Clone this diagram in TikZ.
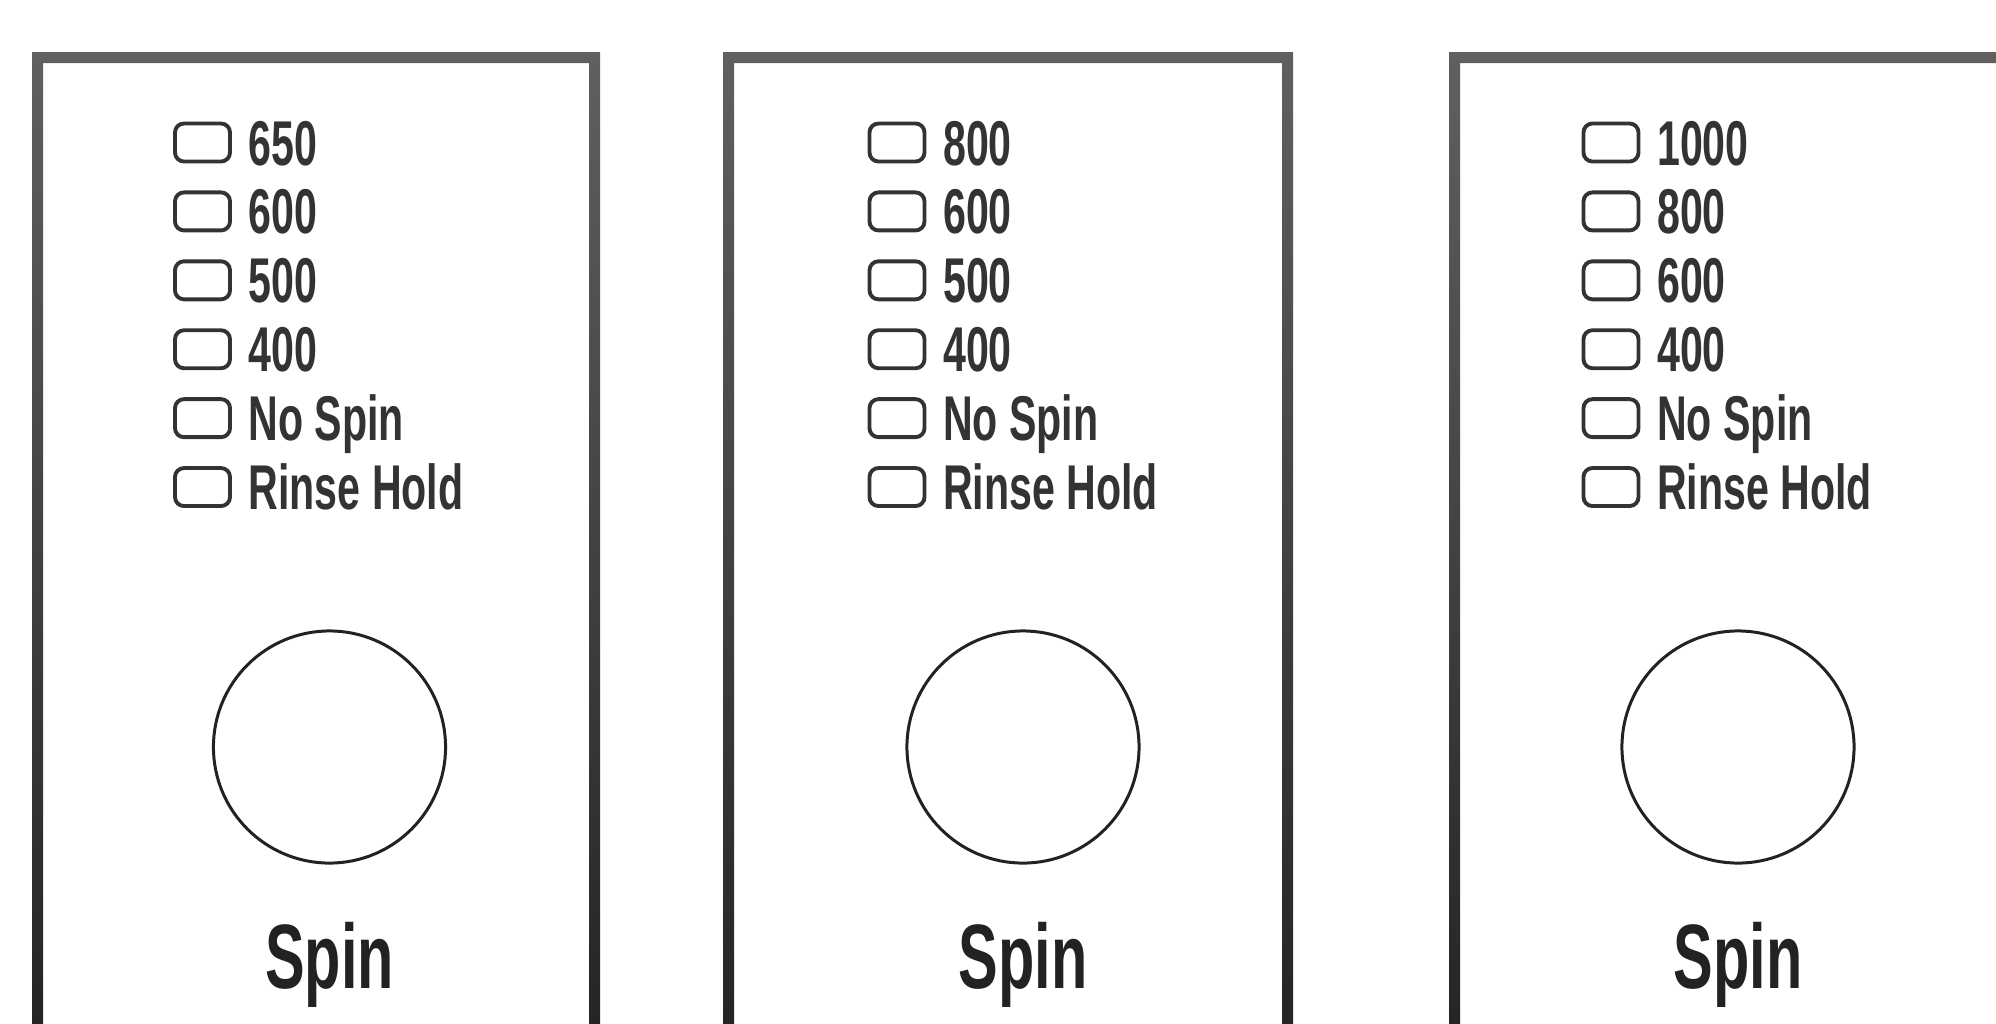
\documentclass[tikz,border=0pt]{standalone}
\usepackage{fontspec}
\usepackage{xcolor}
\usepackage{tikz}
\usetikzlibrary{positioning}
\newfontfamily\panelfont[FakeStretch=0.65]{Liberation Sans}
\definecolor{frametop}{HTML}{606060}
\definecolor{framebot}{HTML}{202020}
\definecolor{inktext}{HTML}{333333}
\definecolor{inkline}{HTML}{222222}
\tikzset{
  panelframe/.style={top color=frametop, bottom color=framebot, even odd rule},
  knob/.style={draw=inktext, line width=1.1pt, rounded corners=0.09cm, minimum width=0.55cm, minimum height=0.38cm, inner sep=0pt},
  speed/.style={inner sep=0pt, text height=0.45cm, text depth=0pt, text=inktext, font=\panelfont\bfseries\fontsize{18}{20}\selectfont},
  dial/.style={draw=inkline, line width=0.85pt, circle, minimum size=2.32cm, inner sep=0pt},
  spinlabel/.style={inner sep=0pt, text height=0.65cm, text depth=0pt, text=inkline, font=\panelfont\bfseries\fontsize{26}{28}\selectfont}
}

\begin{document}
\begin{tikzpicture}[x=0.01cm, y=-0.01cm]
  \useasboundingbox (0,0) rectangle (1996,1023);
  \clip (0,0) rectangle (1996,1023);

  % left panel
  \shade[panelframe] (32,52) rectangle (600,1100) (43,63) rectangle (589,1100);
  \node[knob] (k1a) at (202.5,142.5) {}; \node[speed, right=0.16cm of k1a] (s1a) {650};
  \node[knob, below=0.27cm of k1a] (k1b) {}; \node[speed, right=0.16cm of k1b] (s1b) {600};
  \node[knob, below=0.27cm of k1b] (k1c) {}; \node[speed, right=0.16cm of k1c] (s1c) {500};
  \node[knob, below=0.27cm of k1c] (k1d) {}; \node[speed, right=0.16cm of k1d] (s1d) {400};
  \node[knob, below=0.27cm of k1d] (k1e) {}; \node[speed, right=0.16cm of k1e] (s1e) {No Spin};
  \node[knob, below=0.27cm of k1e] (k1f) {}; \node[speed, right=0.16cm of k1f] (s1f) {Rinse Hold};
  \node[dial] (d1) at (329.5,747) {};
  \node[spinlabel, below=0.58cm of d1] (t1) {Spin};

  % middle panel
  \shade[panelframe] (723,52) rectangle (1293,1100) (734,63) rectangle (1282,1100);
  \node[knob] (k2a) at (897,142.5) {}; \node[speed, right=0.16cm of k2a] (s2a) {800};
  \node[knob, below=0.27cm of k2a] (k2b) {}; \node[speed, right=0.16cm of k2b] (s2b) {600};
  \node[knob, below=0.27cm of k2b] (k2c) {}; \node[speed, right=0.16cm of k2c] (s2c) {500};
  \node[knob, below=0.27cm of k2c] (k2d) {}; \node[speed, right=0.16cm of k2d] (s2d) {400};
  \node[knob, below=0.27cm of k2d] (k2e) {}; \node[speed, right=0.16cm of k2e] (s2e) {No Spin};
  \node[knob, below=0.27cm of k2e] (k2f) {}; \node[speed, right=0.16cm of k2f] (s2f) {Rinse Hold};
  \node[dial] (d2) at (1023,747) {};
  \node[spinlabel, below=0.58cm of d2] (t2) {Spin};

  % right panel (cut off at the edge)
  \shade[panelframe] (1449,52) rectangle (2100,1100) (1460,63) rectangle (2100,1100);
  \node[knob] (k3a) at (1611,142.5) {}; \node[speed, right=0.16cm of k3a] (s3a) {1000};
  \node[knob, below=0.27cm of k3a] (k3b) {}; \node[speed, right=0.16cm of k3b] (s3b) {800};
  \node[knob, below=0.27cm of k3b] (k3c) {}; \node[speed, right=0.16cm of k3c] (s3c) {600};
  \node[knob, below=0.27cm of k3c] (k3d) {}; \node[speed, right=0.16cm of k3d] (s3d) {400};
  \node[knob, below=0.27cm of k3d] (k3e) {}; \node[speed, right=0.16cm of k3e] (s3e) {No Spin};
  \node[knob, below=0.27cm of k3e] (k3f) {}; \node[speed, right=0.16cm of k3f] (s3f) {Rinse Hold};
  \node[dial] (d3) at (1738,747) {};
  \node[spinlabel, below=0.58cm of d3] (t3) {Spin};
\end{tikzpicture}
\end{document}
